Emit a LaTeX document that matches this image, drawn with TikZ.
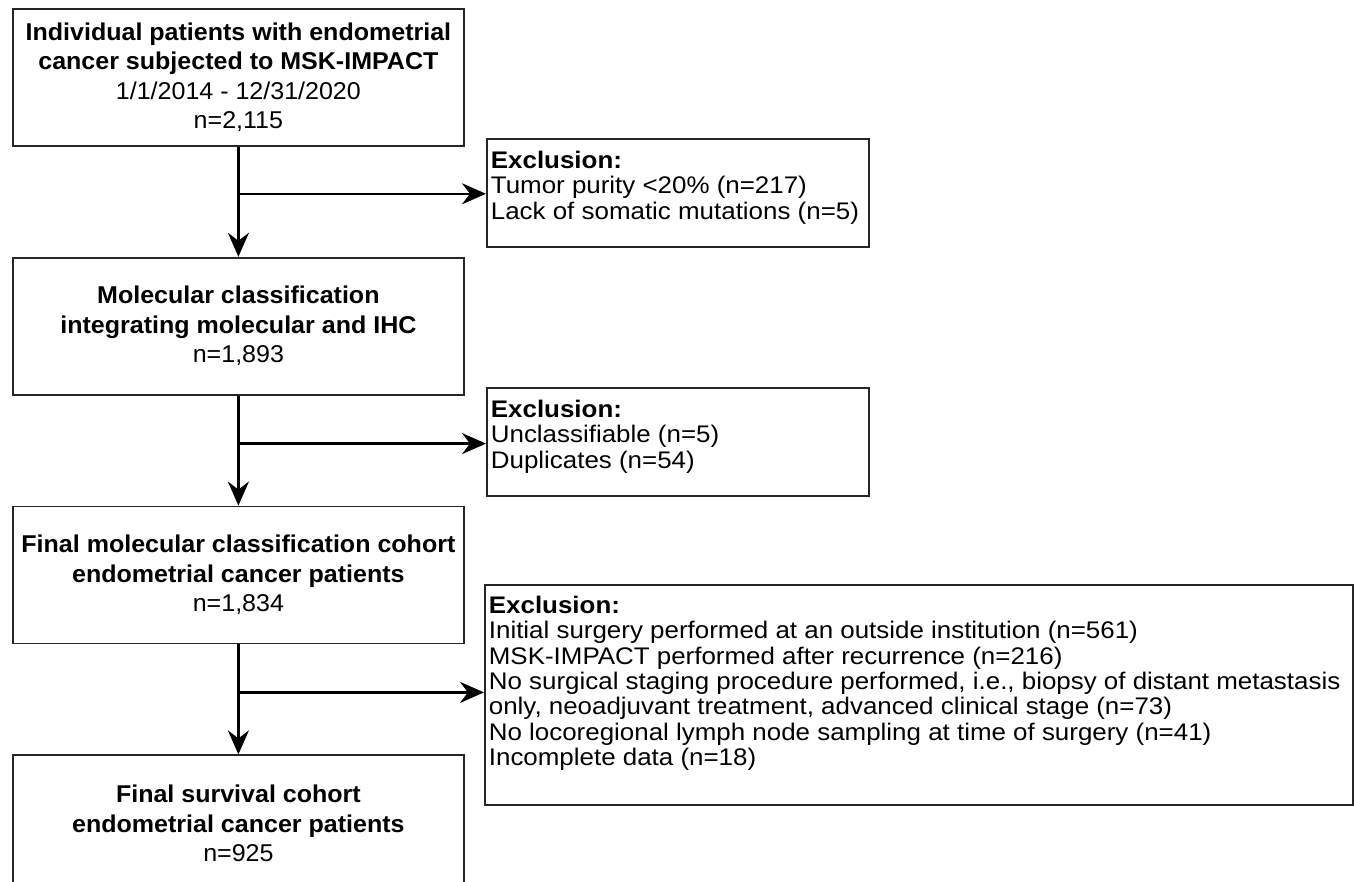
\documentclass[tikz,border=0pt]{standalone}
\usepackage{fontspec}
\setmainfont{Liberation Sans}
\newfontfamily\boxfont[FakeStretch=1.03]{Liberation Sans}
\newfontfamily\exfont[FakeStretch=1.08]{Liberation Sans}
\usetikzlibrary{arrows.meta,positioning}

\begin{document}
\begin{tikzpicture}[x=1pt, y=-1pt,
  mainbox/.style={draw=black!85, line width=1.8pt, minimum width=451pt, minimum height=137pt,
    inner sep=0pt, align=center, font=\boxfont\fontsize{24.3}{29.5}\selectfont},
  exbox/.style={draw=black!85, line width=1.8pt, anchor=north west, inner xsep=4pt, inner ysep=11pt,
    font=\exfont\fontsize{24}{25.3}\selectfont},
  flow/.style={line width=2.3pt, -{Stealth[length=24pt, width=21pt, inset=8pt]}}]
    \path[use as bounding box, clip] (0,0) rectangle (1354,881);

    % main column
    \node[mainbox, anchor=north west] (pat) at (12,8)
        {\textbf{Individual patients with endometrial}\\\textbf{cancer subjected to MSK-IMPACT}\\1/1/2014 - 12/31/2020\\n=2,115};
    \node[mainbox, below=110pt of pat] (mol)
        {\textbf{Molecular classification}\\\textbf{integrating molecular and IHC}\\n=1,893};
    \node[mainbox, below=110pt of mol] (fin)
        {\textbf{Final molecular classification cohort}\\\textbf{endometrial cancer patients}\\n=1,834};
    \node[mainbox, below=110pt of fin] (surv)
        {\textbf{Final survival cohort}\\\textbf{endometrial cancer patients}\\n=925};

    % exclusions
    \node[exbox, inner ysep=12pt] (ex1) at (486,138) {\begin{minipage}[c][84pt][t]{374pt}\strut\textbf{Exclusion:}\\
        Tumor purity <20\% (n=217)\\
        Lack of somatic mutations (n=5)\end{minipage}};
    \node[exbox, inner ysep=12pt] (ex2) at (486,387) {\begin{minipage}[c][84pt][t]{374pt}\strut\textbf{Exclusion:}\\
        Unclassifiable (n=5)\\
        Duplicates (n=54)\end{minipage}};
    \node[exbox] (ex3) at (484,584) {\begin{minipage}[c][198pt][t]{860pt}\strut\textbf{Exclusion:}\\
        Initial surgery performed at an outside institution (n=561)\\
        MSK-IMPACT performed after recurrence (n=216)\\
        No surgical staging procedure performed, i.e., biopsy of distant metastasis\\
        only, neoadjuvant treatment, advanced clinical stage (n=73)\\
        No locoregional lymph node sampling at time of surgery (n=41)\\
        Incomplete data (n=18)\end{minipage}};

    % branch points
    \coordinate[below=47pt of pat.south] (j1);
    \coordinate[below=48pt of mol.south] (j2);
    \coordinate[below=48pt of fin.south] (j3);

    \draw[flow] (pat) -- (mol);
    \draw[flow] (mol) -- (fin);
    \draw[flow] (fin) -- (surv);
    \draw[flow] (j1) -- (ex1.west |- j1);
    \draw[flow] (j2) -- (ex2.west |- j2);
    \draw[flow] (j3) -- (ex3.west |- j3);
\end{tikzpicture}
\end{document}
